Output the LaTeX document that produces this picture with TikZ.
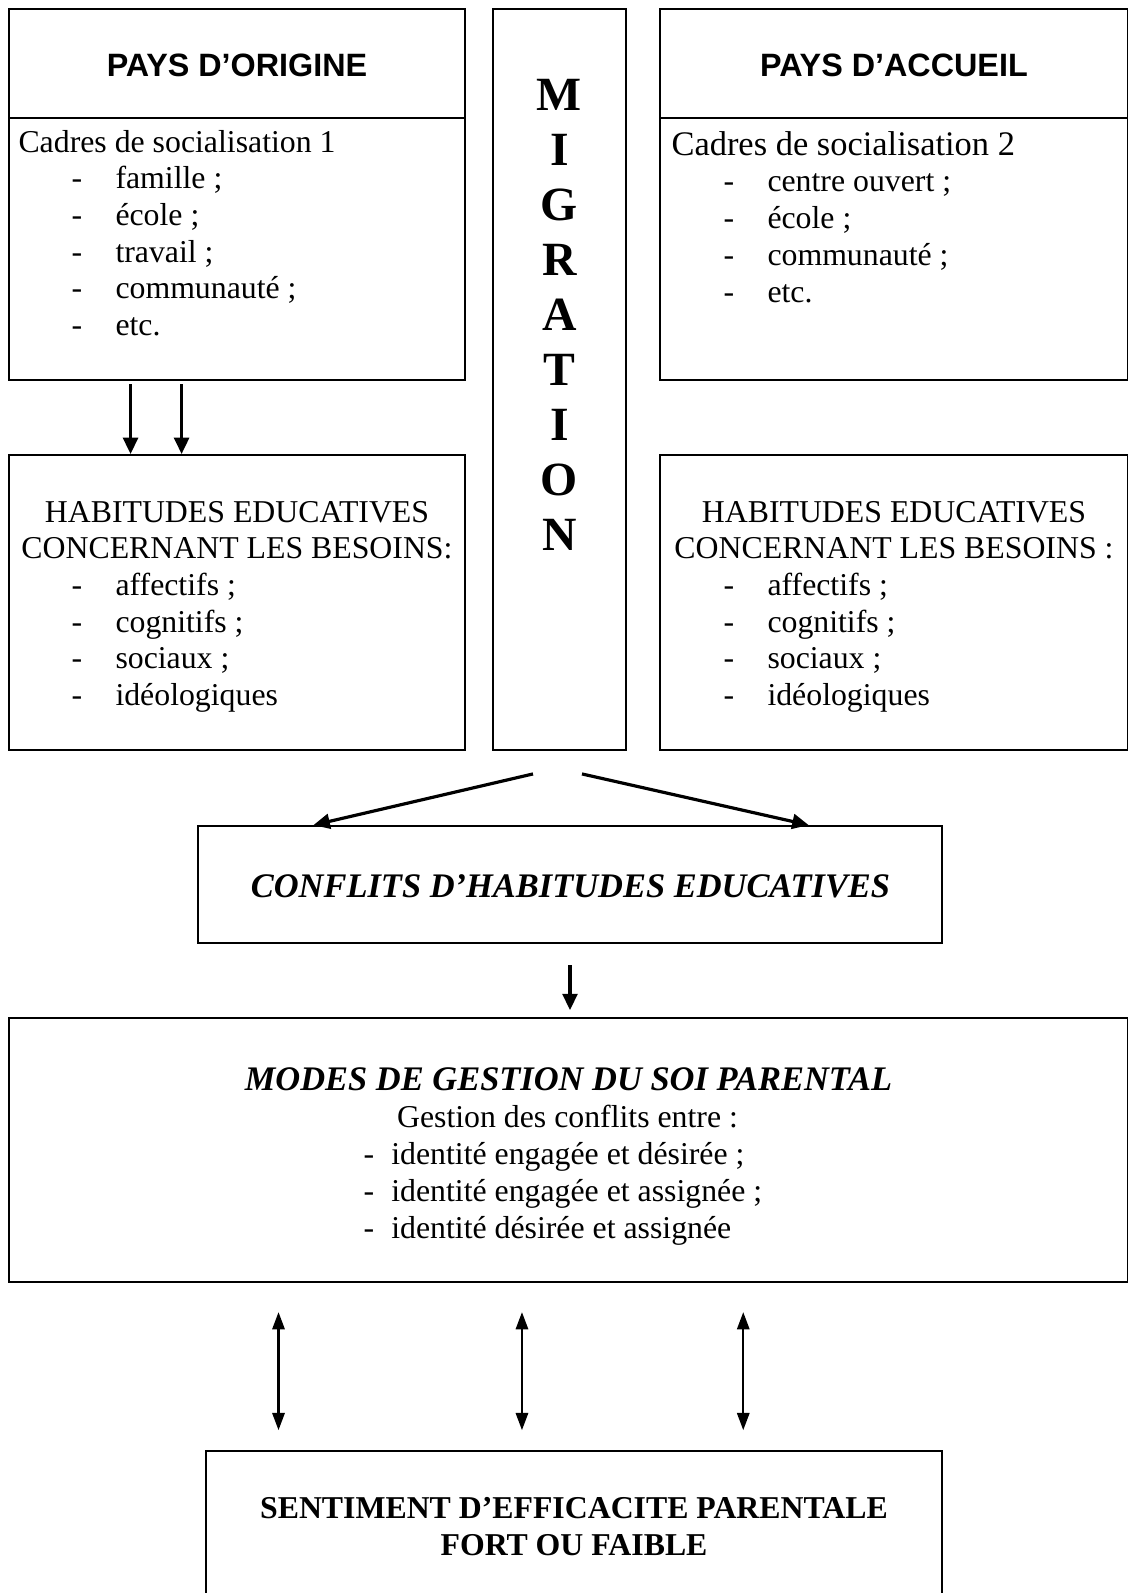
\documentclass[tikz,border=0pt]{standalone}
\usepackage{fontspec}
\setmainfont{Liberation Serif}
\newfontfamily\arialfont{Liberation Sans}
\usetikzlibrary{arrows.meta,calc,fit}
\tikzset{>={Triangle[length=6.2pt,width=5.6pt]}}
\tikzset{
  cadre/.style={draw, line width=0.7pt, inner sep=0pt},
  ligne/.style={anchor=base west, inner sep=0pt, font=\fontsize{12}{13.9}\selectfont},
  centre/.style={anchor=base, inner sep=0pt, font=\fontsize{12}{13.9}\selectfont},
  titre/.style={anchor=base, inner sep=0pt, font=\arialfont\bfseries\fontsize{12.2}{14}\selectfont},
  grand/.style={anchor=base, inner sep=0pt, font=\bfseries\itshape\fontsize{13}{15}\selectfont},
  lettre/.style={anchor=base, inner sep=0pt, font=\bfseries\fontsize{18}{20}\selectfont},
  fleche/.style={->, line width=1.2pt},
  dfleche/.style={<->, line width=0.9pt, >={Triangle[length=6.5pt,width=4.6pt]}},
}
\newcommand\puce{\makebox[16.6pt][l]{-}}
\newcommand\tiret{\makebox[10.5pt][l]{-}}

\begin{document}
\begin{tikzpicture}[x=0.3774pt, y=-0.3774pt]
    \useasboundingbox (0,0) rectangle (1129,1593);
    \clip (0,0) rectangle (1129,1593);
    % cadres
    \node[cadre, fit={(9,9) (465,380)}] (origine) {};
    \node[cadre, fit={(493,9) (626,750)}] (migration) {};
    \node[cadre, fit={(660,9) (1127.5,380)}] (accueil) {};
    \node[cadre, fit={(9,455) (465,750)}] (habitorig) {};
    \node[cadre, fit={(660,455) (1127.5,750)}] (habitacc) {};
    \node[cadre, fit={(198,826) (942,943)}] (conflits) {};
    \node[cadre, fit={(9,1018) (1127.5,1282)}] (modes) {};
    \node[cadre, fit={(206,1451) (942,1650)}] (sentiment) {};
    \draw[line width=0.7pt] ($(origine.north west)+(0,110)$) -- ($(origine.north east)+(0,110)$);
    \draw[line width=0.7pt] ($(accueil.north west)+(0,110)$) -- ($(accueil.north east)+(0,110)$);

    % pays d'origine
    \node[titre] (paysorig) at (237,76) {PAYS D’ORIGINE};
    \node[ligne] (cadres1) at (18,152) {Cadres de socialisation 1};
    \foreach \txt [count=\i] in {{famille ;},{école ;},{travail ;},{communauté ;},{etc.}}
        \node[ligne] (orig\i) at (71,{152+36.7*\i}) {\puce\txt};
    \node[centre] (habitorig1) at (237,522) {HABITUDES EDUCATIVES};
    \node[centre] (habitorig2) at (237,558.5) {CONCERNANT LES BESOINS:};
    \foreach \txt [count=\i] in {{affectifs ;},{cognitifs ;},{sociaux ;},{idéologiques}}
        \node[ligne] (besorig\i) at (71,{558.5+36.8*\i}) {\puce\txt};

    % pays d'accueil
    \node[titre] (paysacc) at (894,76) {PAYS D’ACCUEIL};
    \node[ligne, font=\fontsize{13}{15}\selectfont] (cadres2) at (671,155) {Cadres de socialisation 2};
    \foreach \txt [count=\i] in {{centre ouvert ;},{école ;},{communauté ;},{etc.}}
        \node[ligne] (acc\i) at (723,{155+36.8*\i}) {\puce\txt};
    \node[centre] (habitacc1) at (894,522) {HABITUDES EDUCATIVES};
    \node[centre] (habitacc2) at (894,558.5) {CONCERNANT LES BESOINS :};
    \foreach \txt [count=\i] in {{affectifs ;},{cognitifs ;},{sociaux ;},{idéologiques}}
        \node[ligne] (besacc\i) at (723,{558.5+36.8*\i}) {\puce\txt};

    % migration
    \foreach \car [count=\i] in {M,I,G,R,A,T,I,O,N}
        \node[lettre] (lettre\i) at (559.5,{110+55*(\i-1)}) {\car};

    % conflits et modes
    \node[grand] (conflitstxt) at (570.5,897) {CONFLITS D’HABITUDES EDUCATIVES};
    \node[grand] (modestitre) at (568.5,1090) {MODES DE GESTION DU SOI PARENTAL};
    \node[centre] (gestion) at (567.5,1127) {Gestion des conflits entre :};
    \foreach \txt [count=\i] in {{identité engagée et désirée ;},{identité engagée et assignée ;},{identité désirée et assignée}}
        \node[ligne] (ident\i) at (363,{1127+37*\i}) {\tiret\txt};

    % sentiment
    \node[centre, font=\bfseries\fontsize{12}{14}\selectfont] (sent1) at (574,1518) {SENTIMENT D’EFFICACITE PARENTALE};
    \node[centre, font=\bfseries\fontsize{12}{14}\selectfont] (sent2) at (574,1555) {FORT OU FAIBLE};

    % fleches
    \foreach \k in {0.2675,0.379}
        \draw[fleche, shorten <=1.2pt] ($(origine.south west)!\k!(origine.south east)$) -- ($(habitorig.north west)!\k!(habitorig.north east)$);
    \coordinate (depart1) at ($(migration.south)+(-26.5,23)$);
    \coordinate (depart2) at ($(migration.south)+(22.5,23)$);
    \draw[fleche] (depart1) -- ($(conflits.north west)!0.156!(conflits.north east)$);
    \draw[fleche] (depart2) -- ($(conflits.north west)!0.82!(conflits.north east)$);
    \draw[fleche, shorten <=8pt, shorten >=2.6pt] (conflits.south) -- (conflits.south |- modes.north);
    \foreach \k [count=\i] in {0.2414,0.4587,0.6562} {
        \coordinate (haut\i) at ($(modes.south west)!\k!(modes.south east)$);
        \draw[dfleche, shorten <=11pt, shorten >=7.5pt] (haut\i) -- (haut\i |- sentiment.north);
    }
\end{tikzpicture}
\end{document}
